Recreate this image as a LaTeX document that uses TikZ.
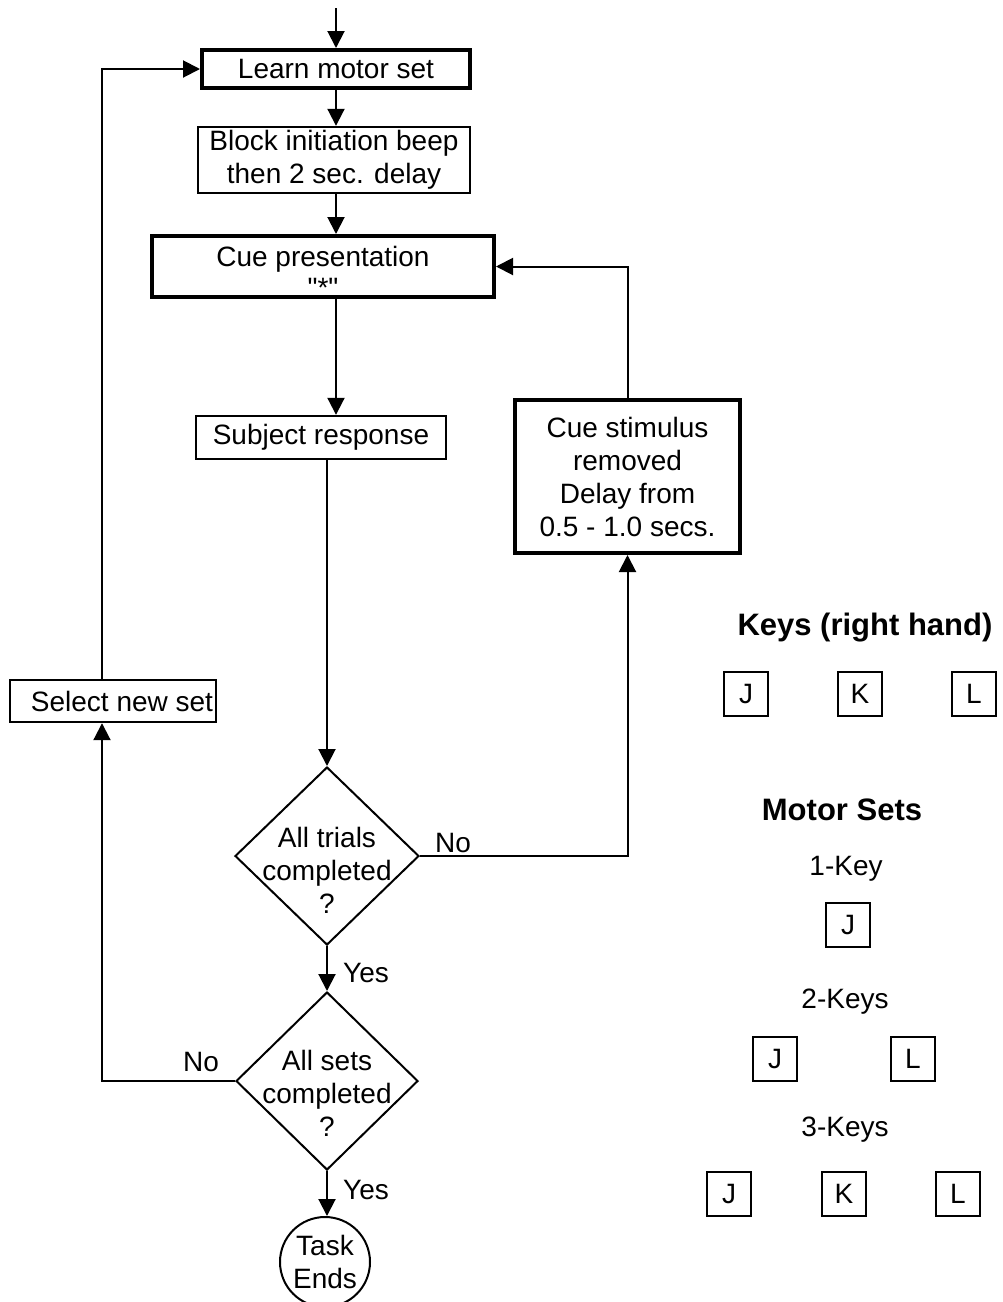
\documentclass[tikz,border=0pt]{standalone}
\usepackage{fontspec}
\setmainfont{Liberation Sans}[Ligatures=TeXOff]
\usetikzlibrary{arrows.meta,shapes.geometric}
\begin{document}
\begin{tikzpicture}[x=0.5pt,y=-0.5pt,
 font=\fontsize{14}{16.5}\selectfont,
 box/.style={draw,line width=1.2pt,inner sep=0pt,align=center},
 thickbox/.style={box,line width=2pt},
 dia/.style={draw,diamond,line width=1pt,inner sep=0pt},
 arr/.style={line width=1pt,-{Triangle[width=8.5pt,length=8.5pt]}},
 key/.style={draw,line width=1.2pt,minimum size=22pt,inner sep=0pt},
 lab/.style={inner sep=0pt,align=center},
 head/.style={lab,font=\fontsize{15.5}{18}\bfseries\selectfont}]
\useasboundingbox (0,0) rectangle (1002,1302);
% flow boxes
\node[thickbox,minimum width=134pt,minimum height=19pt] (learn) at (336,69) {Learn motor set};
\node[box,minimum width=136pt,minimum height=33pt] (block) at (334,160) {Block initiation beep\\then 2 sec. delay};
\node[thickbox,minimum width=171pt,minimum height=30.5pt] (cue) at (323,266.5) {};
\node[lab] (cuet) at (323,272) {Cue presentation\\[-1pt]"*"};
\node[box,minimum width=125pt,minimum height=21.5pt] (subj) at (321,437.5) {Subject response};
\node[thickbox,minimum width=112.5pt,minimum height=76.5pt] (stim) at (627.5,476.5) {Cue stimulus\\removed\\Delay from\\0.5 - 1.0 secs.};
\node[box,minimum width=103pt,minimum height=21pt] (sel) at (113,701) {\hspace*{9pt}Select new set};
\node[dia,minimum width=92pt,minimum height=89pt] (d1) at (327,856) {};
\node[lab] (d1t) at (327,870) {All trials\\completed\\?};
\node[dia,minimum width=91pt,minimum height=89pt] (d2) at (327,1081) {};
\node[lab] (d2t) at (327,1093) {All sets\\completed\\?};
\node[draw,circle,line width=1pt,minimum size=45pt,inner sep=0pt,align=center] (end) at (325,1262) {Task\\Ends};
% connectors
\coordinate (top) at (336,8);
\draw[arr] (top) -- (learn.north);
\draw[arr] (learn.south) -- (learn.south |- block.north);
\draw[arr] (block.south -| learn.south) -- (cue.north -| learn.south);
\draw[arr] (cue.south -| learn.south) -- (subj.north -| learn.south);
\draw[arr] (subj.south -| d1.north) -- (d1.north);
\draw[arr] (d1.south) -- (d2.north);
\node[lab] (yes1) at (366,973) {Yes};
\draw[arr] (d1.east) -| (stim.south);
\node[lab] (no1) at (453,843) {No};
\draw[arr] (stim.north) |- (cue.east);
\draw[arr] (d2.west) -| ([xshift=-5.5pt]sel.south);
\node[lab] (no2) at (201,1062) {No};
\draw[arr] ([xshift=-5.5pt]sel.north) |- (learn.west);
\draw[arr] (d2.south) -- (d2.south |- end.north);
\node[lab] (yes2) at (366,1190) {Yes};
% right panel
\node[head] (keystitle) at (865,628) {Keys (right hand)};
\node[key] (kJ) at (746,694) {J};
\node[key] (kK) at (860,694) {K};
\node[key] (kL) at (974,694) {L};
\node[head] (mstitle) at (842,810) {Motor Sets};
\node[lab] (k1) at (846,869) {1-Key};
\node[key] (s1J) at (848,925) {J};
\node[lab] (k2) at (845,1002) {2-Keys};
\node[key] (s2J) at (775,1059) {J};
\node[key] (s2L) at (913,1059) {L};
\node[lab] (k3) at (845,1130) {3-Keys};
\node[key] (s3J) at (729,1194) {J};
\node[key] (s3K) at (844,1194) {K};
\node[key] (s3L) at (958,1194) {L};
\end{tikzpicture}
\end{document}
